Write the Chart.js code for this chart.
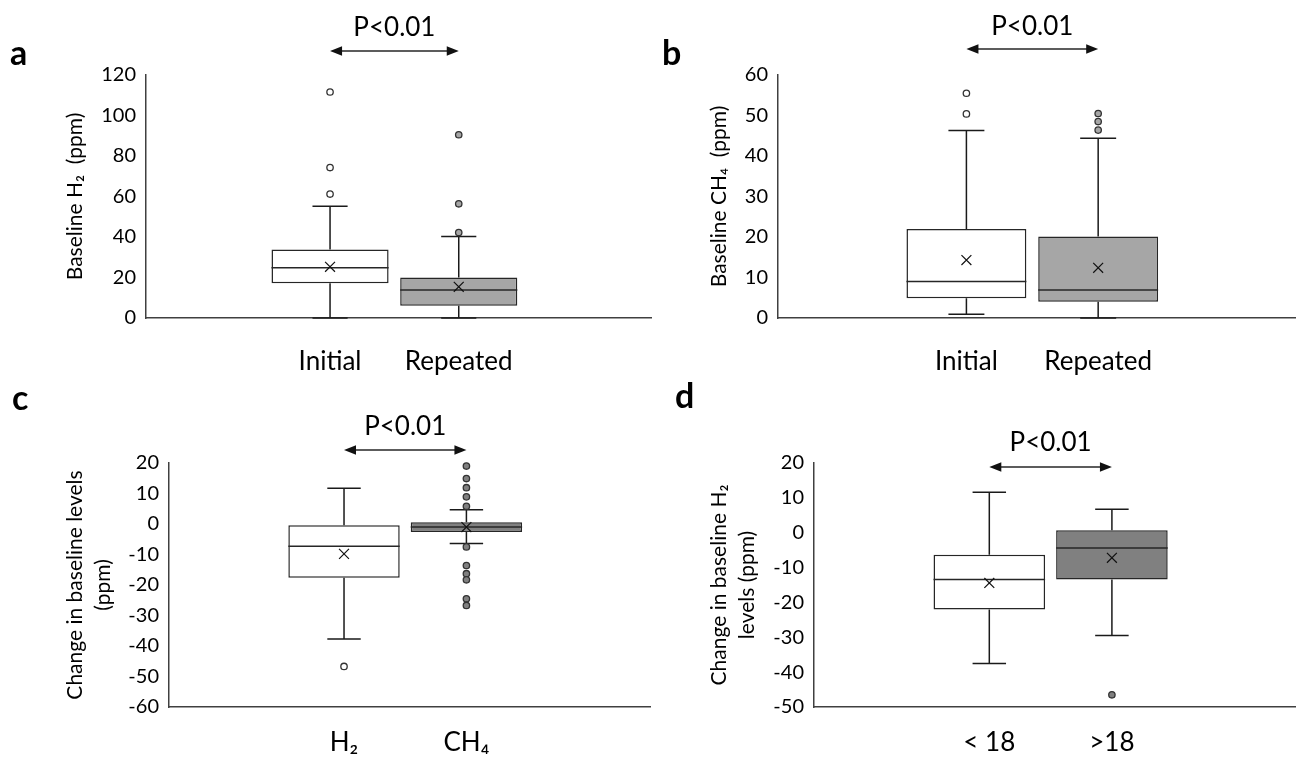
<!DOCTYPE html>
<html>
<head>
<meta charset="utf-8">
<script src="https://cdn.jsdelivr.net/npm/chart.js@4.4.1/dist/chart.umd.min.js"></script>
<style>
html,body{margin:0;padding:0;background:#fff;}
body{width:1304px;height:759px;position:relative;overflow:hidden;}
.p{position:absolute;}
</style>
</head>
<body>
<div class="p" style="left:0;top:0;width:660px;height:380px"><canvas id="ca"></canvas></div>
<div class="p" style="left:652px;top:0;width:652px;height:380px"><canvas id="cb"></canvas></div>
<div class="p" style="left:0;top:380px;width:660px;height:379px"><canvas id="cc"></canvas></div>
<div class="p" style="left:652px;top:380px;width:652px;height:379px"><canvas id="cd"></canvas></div>
<script>
const FONT = "Lato, 'DejaVu Sans', sans-serif";

// ---- Panel a: baseline H2 ----
const catsA = ['Initial', 'Repeated'];
const q1A = [17.1, 6.0];
const q3A = [33.8, 20.0];
const medA = [24.8, 13.8];
const meanA = [25.3, 15.4];
const loA = [0, 0];
const hiA = [55.2, 40.2];
const outA0 = [111.6, 74.3, 61.2];
const outA1 = [90.5, 56.4, 42.2];
const yTicksA = [0, 20, 40, 60, 80, 100, 120];

// ---- Panel b: baseline CH4 ----
const catsB = ['Initial', 'Repeated'];
const q1B = [4.9, 4.0];
const q3B = [22.0, 20.1];
const medB = [9.0, 6.9];
const meanB = [14.3, 12.4];
const loB = [0.9, 0];
const hiB = [46.3, 44.4];
const outB0 = [55.5, 50.4];
const outB1 = [50.5, 48.5, 46.4];
const yTicksB = [0, 10, 20, 30, 40, 50, 60];

// ---- Panel c: change in baseline levels ----
const catsC = ['H₂', 'CH₄'];
const q1C = [-17.6, -2.6];
const q3C = [-0.4, 0.6];
const medC = [-7.3, -1.0];
const meanC = [-9.8, -1.0];
const loC = [-37.7, -6.4];
const hiC = [11.7, 4.7];
const outC0 = [-46.7];
const outC1 = [19.0, 14.9, 11.9, 8.9, 5.8, -7.5, -13.6, -16.3, -18.3, -24.5, -26.7];
const yTicksC = [-60, -50, -40, -30, -20, -10, 0, 10, 20];

// ---- Panel d: change in baseline H2 by age ----
const catsD = ['< 18', '>18'];
const q1D = [-22.0, -13.4];
const q3D = [-6.3, 0.7];
const medD = [-13.4, -4.4];
const meanD = [-14.4, -7.2];
const loD = [-37.5, -29.5];
const hiD = [11.6, 6.7];
const outD0 = [];
const outD1 = [-46.5];
const yTicksD = [-50, -40, -30, -20, -10, 0, 10, 20];

function partsPlugin(d, L) {
  return {
    id: 'boxParts',
    beforeDatasetsDraw(chart) {
      const {ctx} = chart; const y = chart.scales.y;
      const meta = chart.getDatasetMeta(3);
      ctx.save();
      ctx.strokeStyle = '#1a1a1a'; ctx.lineWidth = 1.5;
      d.lo.forEach((lo, i) => {
        const el = meta.data[i]; const cx = el.x; const cap = el.width * 0.15;
        const yHi = y.getPixelForValue(d.hi[i]), yQ3 = y.getPixelForValue(d.q3[i]);
        const yQ1 = y.getPixelForValue(d.q1[i]), yLo = y.getPixelForValue(lo);
        ctx.beginPath();
        ctx.moveTo(cx, yQ3); ctx.lineTo(cx, yHi);
        ctx.moveTo(cx - cap, yHi); ctx.lineTo(cx + cap, yHi);
        ctx.moveTo(cx, yQ1); ctx.lineTo(cx, yLo);
        ctx.moveTo(cx - cap, yLo); ctx.lineTo(cx + cap, yLo);
        ctx.stroke();
      });
      ctx.restore();
    },
    afterDatasetDraw(chart, args) {
      if (args.index !== 3) return;
      const {ctx} = chart; const y = chart.scales.y;
      const meta = chart.getDatasetMeta(3);
      ctx.save();
      ctx.strokeStyle = '#262626'; ctx.lineWidth = 1.5;
      d.med.forEach((m, i) => {
        const el = meta.data[i]; const py = y.getPixelForValue(m);
        ctx.beginPath(); ctx.moveTo(el.x - el.width / 2, py); ctx.lineTo(el.x + el.width / 2, py); ctx.stroke();
      });
      ctx.restore();
    },
    afterDraw(chart) {
      const {ctx} = chart; const x = chart.scales.x;
      const x0 = x.getPixelForValue(0), x1 = x.getPixelForValue(1);
      const ay = L.arrowY, hl = 12, hw = 4.7;
      ctx.save();
      ctx.strokeStyle = '#262626'; ctx.fillStyle = '#111'; ctx.lineWidth = 1.3;
      ctx.beginPath(); ctx.moveTo(x0 + hl - 1, ay); ctx.lineTo(x1 - hl + 1, ay); ctx.stroke();
      ctx.beginPath(); ctx.moveTo(x0, ay); ctx.lineTo(x0 + hl, ay - hw); ctx.lineTo(x0 + hl, ay + hw); ctx.closePath(); ctx.fill();
      ctx.beginPath(); ctx.moveTo(x1, ay); ctx.lineTo(x1 - hl, ay - hw); ctx.lineTo(x1 - hl, ay + hw); ctx.closePath(); ctx.fill();
      ctx.fillStyle = '#000';
      ctx.font = '26px ' + FONT; ctx.textAlign = 'center'; ctx.textBaseline = 'middle';
      ctx.fillText('P<0.01', (x0 + x1) / 2, L.textY);
      ctx.font = 'bold 34px ' + FONT; ctx.textAlign = 'left'; ctx.textBaseline = 'alphabetic';
      ctx.fillText(L.letter, L.letterX, L.letterY);
      ctx.restore();
    }
  };
}

function makePanel(id, d, L) {
  const axisBorder = {display: true, color: '#404040', width: 1.5};
  new Chart(document.getElementById(id), {
    type: 'bar',
    data: {
      datasets: [
        {type: 'scatter', data: d.mean.map((v, i) => ({x: i, y: v})), pointStyle: 'crossRot', radius: 7,
         borderColor: '#111', borderWidth: 1.2, backgroundColor: 'rgba(0,0,0,0)', order: 0, clip: false},
        {type: 'scatter', data: d.out0.map(v => ({x: 0, y: v})), pointStyle: 'circle', radius: 3.2,
         borderColor: '#333', borderWidth: 1.3, backgroundColor: d.outFill[0], order: 0, clip: false},
        {type: 'scatter', data: d.out1.map(v => ({x: 1, y: v})), pointStyle: 'circle', radius: 3.2,
         borderColor: '#333', borderWidth: 1.3, backgroundColor: d.outFill[1], order: 0, clip: false},
        {type: 'bar', data: d.cats.map((c, i) => ({x: i, y: [d.q1[i], d.q3[i]]})), backgroundColor: d.fill,
         borderColor: '#262626', borderWidth: 1.5, borderSkipped: false, barPercentage: 0.91,
         categoryPercentage: 1, order: 1}
      ]
    },
    options: {
      responsive: true, maintainAspectRatio: false, animation: false, devicePixelRatio: 1,
      events: [],
      layout: {padding: L.padding},
      plugins: {legend: {display: false}, tooltip: {enabled: false}},
      scales: {
        x: {
          type: 'linear', offset: false, min: -1.43, max: 2.5,
          afterBuildTicks: s => { s.ticks = d.cats.map((c, i) => ({value: i})); },
          afterFit: s => { s.height = L.xHeight; },
          grid: {display: false, drawTicks: false},
          border: axisBorder,
          ticks: {callback: v => d.cats[v], font: {family: FONT, size: 26}, color: '#000',
                  padding: L.xPad, maxRotation: 0, autoSkip: false}
        },
        y: {
          type: 'linear', min: d.yTicks[0], max: d.yTicks[d.yTicks.length - 1],
          afterBuildTicks: s => { s.ticks = d.yTicks.map(v => ({value: v})); },
          afterFit: s => { s.width = L.yWidth; },
          grid: {display: false, drawTicks: false},
          border: axisBorder,
          ticks: {font: {family: FONT, size: 20}, color: '#000', padding: 10},
          title: {display: true, text: d.yTitle, color: '#000',
                  font: {family: FONT, size: 21, lineHeight: 1.33},
                  padding: {top: L.titlePad, bottom: 0}}
        }
      }
    },
    plugins: [partsPlugin(d, L)]
  });
}

makePanel('ca', {cats: catsA, q1: q1A, q3: q3A, med: medA, mean: meanA, lo: loA, hi: hiA,
  out0: outA0, out1: outA1, yTicks: yTicksA, yTitle: 'Baseline H₂  (ppm)',
  fill: ['#ffffff', '#a6a6a6'], outFill: ['#ffffff', '#a6a6a6']},
  {padding: {left: 0, right: 8, top: 75, bottom: 0}, yWidth: 146, xHeight: 62, xPad: 28,
   titlePad: 61, arrowY: 51, textY: 28, letter: 'a', letterX: 10, letterY: 65});

makePanel('cb', {cats: catsB, q1: q1B, q3: q3B, med: medB, mean: meanB, lo: loB, hi: hiB,
  out0: outB0, out1: outB1, yTicks: yTicksB, yTitle: 'Baseline CH₄  (ppm)',
  fill: ['#ffffff', '#a6a6a6'], outFill: ['#ffffff', '#a6a6a6']},
  {padding: {left: 0, right: 8, top: 75, bottom: 0}, yWidth: 126, xHeight: 62, xPad: 28,
   titlePad: 53, arrowY: 49, textY: 27, letter: 'b', letterX: 10, letterY: 65});

makePanel('cc', {cats: catsC, q1: q1C, q3: q3C, med: medC, mean: meanC, lo: loC, hi: hiC,
  out0: outC0, out1: outC1, yTicks: yTicksC, yTitle: ['Change in baseline levels', '(ppm)'],
  fill: ['#ffffff', '#808080'], outFill: ['#ffffff', '#808080']},
  {padding: {left: 0, right: 10, top: 83, bottom: 0}, yWidth: 169, xHeight: 52, xPad: 20,
   titlePad: 61, arrowY: 70, textY: 47, letter: 'c', letterX: 12, letterY: 30});

makePanel('cd', {cats: catsD, q1: q1D, q3: q3D, med: medD, mean: meanD, lo: loD, hi: hiD,
  out0: outD0, out1: outD1, yTicks: yTicksD, yTitle: ['Change in baseline H₂', 'levels (ppm)'],
  fill: ['#ffffff', '#808080'], outFill: ['#ffffff', '#808080']},
  {padding: {left: 0, right: 8, top: 83, bottom: 0}, yWidth: 162, xHeight: 52, xPad: 20,
   titlePad: 53, arrowY: 87, textY: 63, letter: 'd', letterX: 23, letterY: 28});
</script>
</body>
</html>
